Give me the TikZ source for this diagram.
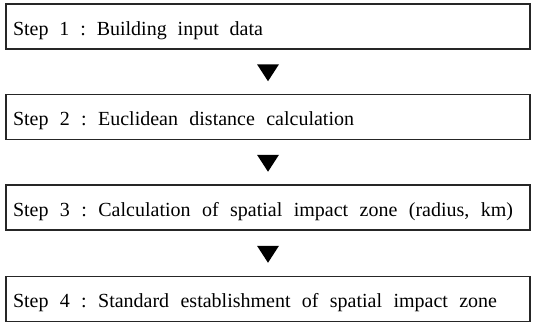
\documentclass[tikz,border=0pt]{standalone}
\usepackage{fontspec}
\setmainfont{Liberation Serif}
\usetikzlibrary{calc}
\newcommand{\wsp}{\hfill}
\begin{document}
\begin{tikzpicture}[x=1pt,y=-1pt,
  stepbox/.style={draw=black!85, line width=1.1pt, minimum width=524pt, minimum height=45pt,
    inner xsep=7pt, inner ysep=0pt, text width=510pt, align=left,
    text height=17pt, text depth=0pt, font=\fontsize{20pt}{24pt}\selectfont},
  tri/.style={fill=black}]
\useasboundingbox (0,0) rectangle (534,325);
\node[stepbox] (b1) at (268,26.5) {\hbox to 250pt{Step\wsp 1\wsp :\wsp Building\wsp input\wsp data}};
\node[stepbox] (b2) at (268,117) {\hbox to 341pt{Step\wsp 2\wsp :\wsp Euclidean\wsp distance\wsp calculation}};
\node[stepbox] (b3) at (268,207.5) {\hbox to 500pt{Step\wsp 3\wsp :\wsp Calculation\wsp of\wsp spatial\wsp impact\wsp zone\wsp (radius,\wsp km)}};
\node[stepbox] (b4) at (268,299) {\hbox to 484pt{Step\wsp 4\wsp :\wsp Standard\wsp establishment\wsp of\wsp spatial\wsp impact\wsp zone}};
\foreach \a/\b/\n in {b1/b2/t1, b2/b3/t2, b3/b4/t3}{
  \coordinate (\n) at ($(\a.south)!0.5!(\b.north)+(0,1)$);
  \fill[tri] ($(\n)+(-11,-8.5)$) -- ($(\n)+(11,-8.5)$) -- ($(\n)+(0,8.5)$) -- cycle;
}
\end{tikzpicture}
\end{document}
